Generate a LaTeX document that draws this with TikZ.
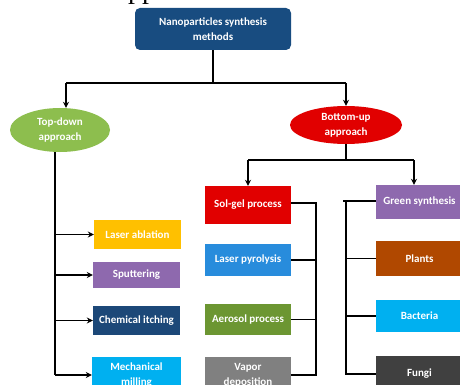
\documentclass[tikz,border=0pt]{standalone}
\usepackage{fontspec}
\setmainfont{Carlito}
\newfontfamily\serifpp{Liberation Serif}
\usetikzlibrary{arrows.meta,shapes.geometric,calc}
\definecolor{cTop}{RGB}{24,76,128}
\definecolor{cGreenE}{RGB}{141,190,78}
\definecolor{cRed}{RGB}{225,0,0}
\definecolor{cOrange}{RGB}{255,192,0}
\definecolor{cPurple}{RGB}{142,105,174}
\definecolor{cNavy}{RGB}{28,72,120}
\definecolor{cSky}{RGB}{0,176,240}
\definecolor{cBlue}{RGB}{40,140,220}
\definecolor{cOlive}{RGB}{108,150,50}
\definecolor{cGray}{RGB}{128,128,128}
\definecolor{cBrown}{RGB}{176,72,0}
\definecolor{cDark}{RGB}{64,64,64}
\tikzset{
  lbl/.style={text=white, font=\fontsize{11}{15}\selectfont\bfseries, align=center, inner sep=0pt},
  box/.style={lbl, rectangle, minimum width=87pt},
  oval/.style={lbl, ellipse},
  conn/.style={line width=1.5pt, black},
  arr/.style={conn, -{Stealth[length=6pt,width=6pt]}},
}
\begin{document}
\begin{tikzpicture}[x=1pt,y=-1pt]
\clip (0,0) rectangle (460,385);
\fill[white] (0,0) rectangle (460,385);
% fragment of text above
\node[anchor=base west, inner sep=0pt, font=\fontsize{28}{30}\serifpp] (frag) at (128,-1) {pp};
% top
\node[lbl, fill=cTop, rounded corners=5pt, minimum width=156pt, minimum height=42pt] (top) at (213,29) {Nanoparticles synthesis\\methods};
\node[oval, fill=cGreenE, minimum width=100pt, minimum height=44pt] (td) at (60,130) {Top-down\\approach};
\node[oval, fill=cRed, minimum width=112pt, minimum height=38pt] (bu) at (346,125) {Bottom-up\\approach};
% left column
\node[box, fill=cOrange, minimum height=29pt] (la) at (137.5,234.5) {Laser ablation};
\node[box, fill=cPurple, minimum height=26pt] (sp) at (136.5,275) {Sputtering};
\node[box, fill=cNavy, minimum height=29pt] (ci) at (136.5,320.5) {Chemical itching};
\node[box, fill=cSky, minimum height=36pt, minimum width=89pt] (mm) at (136.5,375) {Mechanical\\milling};
% middle column
\node[box, fill=cRed, minimum width=86pt, minimum height=38pt] (sg) at (248,205) {Sol-gel process};
\node[box, fill=cBlue, minimum width=86pt, minimum height=32pt] (lp) at (248,260) {Laser pyrolysis};
\node[box, fill=cOlive, minimum width=86pt, minimum height=31pt] (ap) at (248,319.5) {Aerosol process};
\node[box, fill=cGray, minimum width=86pt, minimum height=36pt] (vd) at (248,375) {Vapor\\deposition};
% right column
\node[box, fill=cPurple, minimum height=34pt] (gs) at (419.5,202) {Green synthesis};
\node[box, fill=cBrown, minimum height=35pt] (pl) at (419.5,258.5) {Plants};
\node[box, fill=cSky, minimum height=32pt] (ba) at (419.5,316) {Bacteria};
\node[box, fill=cDark, minimum height=36pt] (fu) at (419.5,374) {Fungi};
% connectors top
\coordinate (jT) at (213,83);
\coordinate (jL) at (66,83);
\coordinate (jR) at (346,83);
\draw[conn] (top.south) -- (jT);
\draw[conn] (jL) -- (jR);
\draw[arr] (jL) -- (jL |- td.north);
\draw[arr] (jR) -- (bu.north);
% left trunk
\coordinate (lt) at (55,0);
\draw[conn] (lt |- td.south) -- (lt |- mm.west);
\draw[arr] (lt |- la.west) -- (la.west);
\draw[arr] (lt |- sp.west) -- (sp.west);
\draw[arr] (lt |- ci.west) -- (ci.west);
\draw[arr] (lt |- mm.west) -- (mm.west);
% right split
\coordinate (jB) at (346,160);
\coordinate (jBL) at (248,160);
\coordinate (jBR) at (414,160);
\draw[conn] (bu.south) -- (jB);
\draw[conn] (jBL) -- (jBR);
\draw[arr] (jBL) -- (sg.north);
\draw[arr] (jBR) -- (jBR |- gs.north);
% middle bracket
\coordinate (mb) at (316,0);
\draw[conn] ($(sg.east)+(0,-2)$) -- ($(sg.east -| mb)+(0,-2)$) -- (vd.east -| mb) -- (vd.east);
\draw[conn] (lp.east) -- (lp.east -| mb);
\draw[conn] (ap.east) -- (ap.east -| mb);
% right bracket
\coordinate (rb) at (346,0);
\draw[conn] ($(gs.west -| rb)+(-3,-1)$) -- ($(gs.west)+(0,-1)$);
\draw[conn] ($(gs.west -| rb)+(0,-1)$) -- (fu.west -| rb) -- (fu.west);
\draw[conn] (pl.west -| rb) -- (pl.west);
\draw[conn] (ba.west -| rb) -- (ba.west);
\end{tikzpicture}
\end{document}
